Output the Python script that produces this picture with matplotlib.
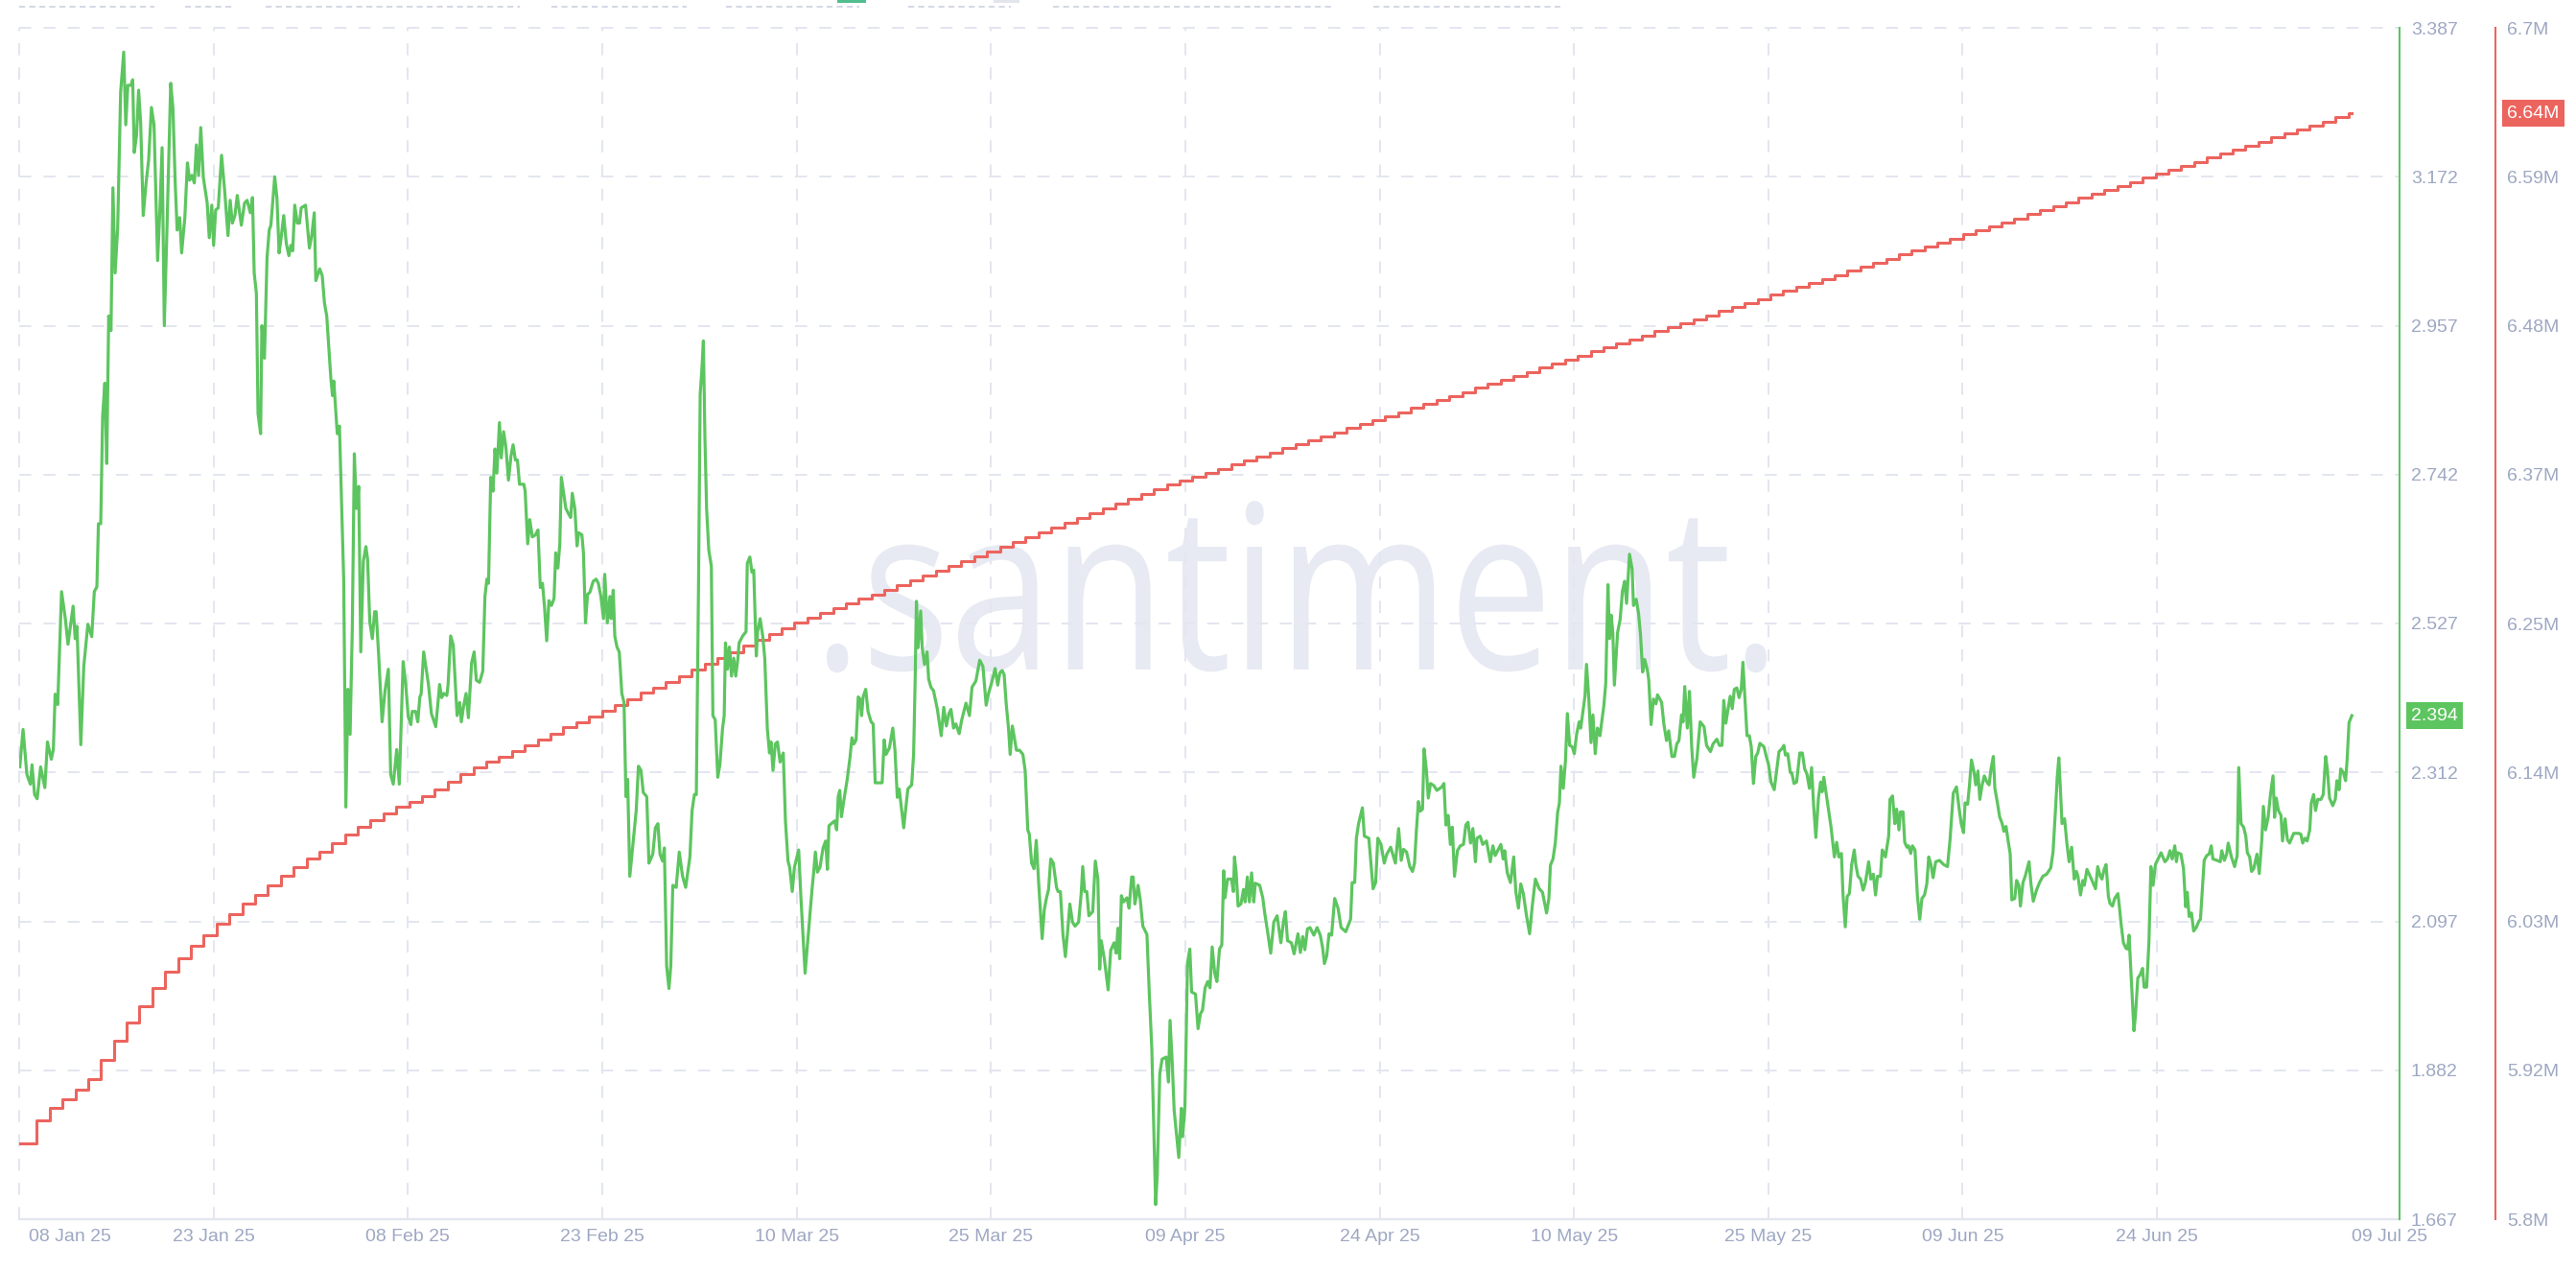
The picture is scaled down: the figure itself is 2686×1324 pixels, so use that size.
import numpy as np
import matplotlib.pyplot as plt
from matplotlib.textpath import TextPath
from matplotlib.font_manager import FontProperties
from matplotlib.patches import PathPatch, Rectangle
from matplotlib.transforms import Affine2D

plt.rcParams['font.family'] = ['Liberation Sans', 'DejaVu Sans']

# ---- data (x = days since 08 Jan 25) ----
date_labels = ["08 Jan 25", "23 Jan 25", "08 Feb 25", "23 Feb 25", "10 Mar 25", "25 Mar 25",
               "09 Apr 25", "24 Apr 25", "10 May 25", "25 May 25", "09 Jun 25", "24 Jun 25", "09 Jul 25"]
green_ticks = [1.667, 1.882, 2.097, 2.312, 2.527, 2.742, 2.957, 3.172, 3.387]
red_ticks = [5.8, 5.9125, 6.025, 6.1375, 6.25, 6.3625, 6.475, 6.5875, 6.7]
red_tick_labels = ["5.8M", "5.92M", "6.03M", "6.14M", "6.25M", "6.37M", "6.48M", "6.59M", "6.7M"]

# green series: (day, value)
green_points = [
    (0.05, 2.320), (0.3, 2.374), (0.6, 2.309), (0.87, 2.295), (1.0, 2.323), (1.2, 2.280), (1.4, 2.274),
    (1.67, 2.320), (2.0, 2.290), (2.2, 2.356), (2.5, 2.331), (2.66, 2.345), (2.8, 2.425), (3.0, 2.410),
    (3.3, 2.573), (3.6, 2.533), (3.8, 2.497), (4.2, 2.552), (4.36, 2.505), (4.5, 2.523), (4.8, 2.352),
    (5.03, 2.465), (5.35, 2.526), (5.65, 2.508), (5.85, 2.573), (6.05, 2.580), (6.17, 2.671), (6.35, 2.671),
    (6.5, 2.827), (6.67, 2.874), (6.82, 2.758), (6.97, 2.971), (7.15, 2.950), (7.3, 3.156), (7.47, 3.033),
    (7.67, 3.098), (7.9, 3.294), (8.14, 3.352), (8.3, 3.247), (8.46, 3.304), (8.7, 3.304), (8.84, 3.312),
    (8.96, 3.207), (9.14, 3.232), (9.3, 3.297), (9.46, 3.250), (9.66, 3.116), (9.88, 3.163), (10.08, 3.196),
    (10.3, 3.272), (10.5, 3.247), (10.78, 3.051), (10.95, 3.120), (11.13, 3.214), (11.3, 2.957), (11.5, 3.091),
    (11.8, 3.307), (11.97, 3.272), (12.15, 3.163), (12.3, 3.095), (12.5, 3.113), (12.65, 3.062), (12.9, 3.113),
    (13.1, 3.192), (13.27, 3.167), (13.44, 3.174), (13.64, 3.163), (13.8, 3.218), (13.97, 3.174), (14.14, 3.243),
    (14.34, 3.171), (14.64, 3.134), (14.8, 3.084), (15.0, 3.131), (15.14, 3.073), (15.3, 3.124), (15.5, 3.127),
    (15.76, 3.203), (16.0, 3.152), (16.26, 3.087), (16.43, 3.138), (16.6, 3.105), (16.8, 3.116), (16.98, 3.145),
    (17.3, 3.102), (17.55, 3.134), (17.75, 3.138), (18.0, 3.120), (18.17, 3.142), (18.3, 3.033), (18.47, 3.004),
    (18.6, 2.830), (18.8, 2.801), (18.9, 2.957), (19.1, 2.910), (19.3, 3.055), (19.47, 3.095), (19.6, 3.102),
    (19.9, 3.172), (20.07, 3.142), (20.24, 3.062), (20.4, 3.084), (20.6, 3.116), (20.8, 3.076), (21.0, 3.058),
    (21.16, 3.073), (21.3, 3.065), (21.46, 3.131), (21.66, 3.105), (21.83, 3.105), (21.96, 3.127), (22.3, 3.131),
    (22.6, 3.069), (22.78, 3.087), (22.98, 3.120), (23.1, 3.022), (23.4, 3.039), (23.6, 3.029), (23.77, 2.990),
    (23.95, 2.971), (24.27, 2.881), (24.4, 2.856), (24.5, 2.877), (24.77, 2.801), (24.94, 2.812), (25.27, 2.591),
    (25.44, 2.262), (25.6, 2.432), (25.77, 2.367), (25.94, 2.519), (26.1, 2.772), (26.26, 2.693), (26.44, 2.725),
    (26.6, 2.486), (26.8, 2.617), (27.0, 2.638), (27.13, 2.620), (27.3, 2.530), (27.5, 2.505), (27.68, 2.544),
    (27.8, 2.544), (28.0, 2.479), (28.26, 2.385), (28.5, 2.432), (28.75, 2.461), (28.93, 2.309), (29.13, 2.295),
    (29.4, 2.345), (29.6, 2.295), (29.9, 2.472), (30.1, 2.439), (30.3, 2.392), (30.5, 2.381), (30.6, 2.400),
    (30.87, 2.400), (31.04, 2.385), (31.2, 2.421), (31.3, 2.425), (31.5, 2.486), (31.87, 2.439),
    (32.1, 2.397), (32.44, 2.378), (32.74, 2.439), (32.9, 2.42), (33.06, 2.426), (33.3, 2.423), (33.4, 2.439),
    (33.6, 2.509), (33.8, 2.496), (34.1, 2.394), (34.3, 2.413), (34.43, 2.385), (34.6, 2.407), (34.8, 2.426),
    (34.98, 2.391), (35.23, 2.47), (35.43, 2.486), (35.6, 2.445), (35.85, 2.442), (36.1, 2.458), (36.27, 2.566),
    (36.42, 2.591), (36.55, 2.585), (36.72, 2.738), (36.9, 2.718), (37.05, 2.779), (37.2, 2.744), (37.4, 2.817),
    (37.54, 2.766), (37.72, 2.804), (37.9, 2.782), (38.1, 2.734), (38.3, 2.769), (38.46, 2.785), (38.64, 2.763),
    (38.8, 2.763), (38.96, 2.728), (39.3, 2.728), (39.4, 2.718), (39.6, 2.642), (39.76, 2.677), (39.96, 2.652),
    (40.2, 2.655), (40.4, 2.662), (40.58, 2.579), (40.75, 2.585), (40.9, 2.553), (41.08, 2.502), (41.25, 2.56),
    (41.45, 2.553), (41.65, 2.563), (41.78, 2.629), (41.95, 2.607), (42.1, 2.642), (42.22, 2.738), (42.4, 2.715),
    (42.57, 2.693), (42.82, 2.684), (42.95, 2.68), (43.07, 2.715), (43.27, 2.693), (43.44, 2.639), (43.57, 2.658),
    (43.82, 2.655), (43.94, 2.629), (44.1, 2.528), (44.26, 2.569), (44.44, 2.572), (44.7, 2.588), (44.93, 2.591),
    (45.1, 2.585), (45.3, 2.566), (45.5, 2.534), (45.6, 2.598), (45.8, 2.528), (46.0, 2.566), (46.1, 2.534),
    (46.26, 2.575), (46.38, 2.509), (46.55, 2.493), (46.73, 2.486), (46.93, 2.426), (47.1, 2.413), (47.25, 2.277),
    (47.38, 2.302), (47.55, 2.162), (47.8, 2.21), (48.05, 2.257), (48.22, 2.321), (48.42, 2.315), (48.6, 2.283),
    (48.87, 2.277), (49.04, 2.181), (49.34, 2.194), (49.54, 2.232), (49.74, 2.238), (49.9, 2.194), (50.1, 2.184),
    (50.24, 2.203), (50.42, 2.032), (50.6, 2.0), (50.74, 2.032), (50.9, 2.149), (51.16, 2.146), (51.4, 2.197),
    (51.66, 2.162), (51.9, 2.146), (52.23, 2.19), (52.4, 2.257), (52.58, 2.28), (52.73, 2.28), (52.9, 2.579),
    (53.03, 2.858), (53.15, 2.89), (53.28, 2.935), (53.4, 2.795), (53.53, 2.693), (53.7, 2.633), (53.9, 2.61),
    (54.02, 2.394), (54.2, 2.388), (54.4, 2.305), (54.57, 2.324), (54.77, 2.375), (54.9, 2.394), (55.0, 2.499),
    (55.15, 2.461), (55.3, 2.493), (55.47, 2.451), (55.64, 2.477), (55.8, 2.451), (55.97, 2.477), (56.06, 2.499),
    (56.34, 2.509), (56.6, 2.515), (56.7, 2.614), (56.9, 2.623), (57.06, 2.601), (57.2, 2.604), (57.4, 2.48),
    (57.5, 2.515), (57.7, 2.534), (57.9, 2.509), (58.06, 2.477), (58.26, 2.375), (58.43, 2.34), (58.55, 2.356),
    (58.7, 2.315), (58.88, 2.353), (59.05, 2.356), (59.25, 2.327), (59.5, 2.34), (59.67, 2.242), (59.87, 2.184),
    (60.0, 2.175), (60.2, 2.14), (60.37, 2.175), (60.7, 2.2), (60.87, 2.133), (61.2, 2.022), (61.5, 2.089),
    (61.74, 2.143), (61.87, 2.168), (62.0, 2.197), (62.16, 2.168), (62.36, 2.175), (62.6, 2.203), (62.8, 2.213),
    (62.94, 2.172), (63.06, 2.235), (63.24, 2.238), (63.5, 2.242), (63.66, 2.229), (63.78, 2.277), (63.9, 2.286),
    (64.03, 2.248), (64.23, 2.273), (64.48, 2.302), (64.7, 2.334), (64.85, 2.362), (65.0, 2.353), (65.17, 2.359),
    (65.34, 2.421), (65.47, 2.418), (65.6, 2.394), (65.72, 2.421), (65.92, 2.432), (66.1, 2.4), (66.34, 2.385),
    (66.5, 2.382), (66.66, 2.297), (66.9, 2.297), (67.2, 2.297), (67.36, 2.359), (67.5, 2.338), (67.76, 2.347),
    (68.03, 2.376), (68.2, 2.344), (68.38, 2.276), (68.53, 2.288), (68.7, 2.261), (68.88, 2.232), (69.03, 2.258),
    (69.2, 2.288), (69.5, 2.294), (69.65, 2.338), (69.77, 2.444), (69.87, 2.559), (70.0, 2.492), (70.2, 2.545),
    (70.32, 2.492), (70.5, 2.468), (70.7, 2.486), (70.82, 2.447), (71.0, 2.435), (71.2, 2.43), (71.5, 2.403),
    (71.8, 2.365), (72.0, 2.406), (72.2, 2.379), (72.4, 2.397), (72.56, 2.403), (72.76, 2.376), (72.94, 2.382),
    (73.2, 2.368), (73.4, 2.388), (73.73, 2.412), (74.0, 2.394), (74.2, 2.435), (74.5, 2.444), (74.8, 2.474),
    (75.05, 2.465), (75.3, 2.409), (75.5, 2.427), (75.72, 2.441), (76.0, 2.462), (76.2, 2.438), (76.37, 2.456),
    (76.55, 2.459), (76.7, 2.453), (76.87, 2.409), (77.04, 2.376), (77.17, 2.338), (77.34, 2.379), (77.66, 2.344),
    (77.9, 2.344), (78.16, 2.338), (78.34, 2.314), (78.54, 2.229), (78.66, 2.223), (78.84, 2.181), (79.03, 2.173),
    (79.2, 2.214), (79.4, 2.149), (79.66, 2.072), (79.83, 2.114), (80.0, 2.131), (80.16, 2.143), (80.33, 2.187),
    (80.53, 2.181), (80.78, 2.146), (80.9, 2.14), (81.08, 2.14), (81.28, 2.078), (81.47, 2.046), (81.65, 2.084),
    (81.82, 2.122), (82.02, 2.096), (82.22, 2.09), (82.5, 2.096), (82.7, 2.137), (82.82, 2.176), (82.97, 2.14),
    (83.14, 2.14), (83.3, 2.105), (83.6, 2.111), (83.8, 2.184), (84.0, 2.158), (84.14, 2.028), (84.26, 2.069),
    (84.5, 2.043), (84.8, 1.998), (85.0, 2.055), (85.26, 2.066), (85.43, 2.051), (85.56, 2.087), (85.7, 2.043),
    (85.83, 2.134), (86.0, 2.125), (86.26, 2.131), (86.43, 2.116), (86.63, 2.161), (86.75, 2.161), (86.88, 2.122),
    (87.0, 2.134), (87.13, 2.149), (87.3, 2.128), (87.5, 2.09), (87.82, 2.078), (88.0, 1.995), (88.2, 1.913),
    (88.37, 1.783), (88.5, 1.688), (88.62, 1.73), (88.82, 1.877), (89.0, 1.898), (89.32, 1.901), (89.5, 1.865),
    (89.62, 1.954), (89.8, 1.889), (89.94, 1.824), (90.16, 1.783), (90.3, 1.756), (90.5, 1.827), (90.6, 1.786),
    (90.78, 1.83), (90.98, 2.037), (91.16, 2.057), (91.3, 1.995), (91.6, 1.992), (91.8, 1.942), (91.98, 1.963),
    (92.15, 1.969), (92.35, 2.001), (92.55, 2.01), (92.73, 2.001), (92.9, 2.06), (93.1, 2.022), (93.27, 2.01),
    (93.47, 2.057), (93.65, 2.063), (93.8, 2.17), (93.9, 2.131), (94.1, 2.158), (94.4, 2.158), (94.55, 2.14),
    (94.64, 2.19), (94.77, 2.167), (94.92, 2.119), (95.14, 2.122), (95.34, 2.143), (95.47, 2.125), (95.64, 2.161),
    (95.8, 2.125), (95.97, 2.167), (96.14, 2.125), (96.26, 2.152), (96.6, 2.149), (96.84, 2.131), (97.0, 2.108),
    (97.2, 2.084), (97.46, 2.051), (97.7, 2.096), (97.96, 2.105), (98.25, 2.066), (98.45, 2.096), (98.6, 2.111),
    (98.77, 2.069), (99.07, 2.066), (99.28, 2.05), (99.58, 2.079), (99.77, 2.052), (99.95, 2.075), (100.12, 2.056),
    (100.32, 2.086), (100.52, 2.088), (100.82, 2.077), (101.07, 2.088), (101.32, 2.077), (101.5, 2.059),
    (101.64, 2.036), (101.82, 2.047), (102.0, 2.079), (102.2, 2.077), (102.44, 2.13), (102.7, 2.116),
    (102.94, 2.088), (103.3, 2.082), (103.68, 2.1), (103.8, 2.153), (104.0, 2.153), (104.13, 2.217), (104.3, 2.238),
    (104.6, 2.261), (104.75, 2.22), (105.1, 2.217), (105.43, 2.144), (105.63, 2.153), (105.8, 2.217),
    (106.05, 2.208), (106.3, 2.181), (106.5, 2.194), (106.8, 2.204), (107.17, 2.181), (107.42, 2.231),
    (107.62, 2.185), (107.8, 2.201), (108.04, 2.197), (108.29, 2.176), (108.5, 2.169), (108.66, 2.181),
    (108.8, 2.227), (108.96, 2.27), (109.1, 2.256), (109.28, 2.259), (109.4, 2.346), (109.58, 2.316),
    (109.73, 2.275), (109.9, 2.296), (110.16, 2.293), (110.4, 2.286), (110.78, 2.291), (110.95, 2.296),
    (111.1, 2.236), (111.28, 2.25), (111.45, 2.208), (111.6, 2.233), (111.77, 2.162), (112.0, 2.199),
    (112.22, 2.206), (112.47, 2.208), (112.65, 2.236), (112.82, 2.24), (113.02, 2.21), (113.2, 2.231),
    (113.4, 2.183), (113.52, 2.217), (113.77, 2.22), (113.97, 2.208), (114.26, 2.213), (114.56, 2.183),
    (114.76, 2.206), (114.94, 2.192), (115.13, 2.199), (115.38, 2.208), (115.56, 2.187), (115.68, 2.199),
    (115.88, 2.167), (116.13, 2.153), (116.38, 2.19), (116.55, 2.139), (116.75, 2.116), (116.93, 2.151),
    (117.13, 2.137), (117.38, 2.105), (117.62, 2.079), (117.82, 2.118), (118.07, 2.158), (118.37, 2.144),
    (118.62, 2.139), (118.74, 2.128), (118.94, 2.109), (119.12, 2.13), (119.24, 2.178), (119.44, 2.187),
    (119.62, 2.21), (119.8, 2.254), (119.94, 2.268), (120.06, 2.321), (120.24, 2.289), (120.41, 2.328),
    (120.56, 2.397), (120.74, 2.351), (120.94, 2.349), (121.1, 2.339), (121.28, 2.367), (121.48, 2.385),
    (121.6, 2.376), (121.78, 2.401), (121.93, 2.422), (122.05, 2.468), (122.23, 2.418), (122.4, 2.355),
    (122.55, 2.395), (122.73, 2.339), (122.9, 2.376), (123.1, 2.365), (123.22, 2.383), (123.4, 2.408),
    (123.55, 2.441), (123.72, 2.583), (123.85, 2.505), (123.97, 2.539), (124.1, 2.514), (124.22, 2.438),
    (124.47, 2.514), (124.67, 2.533), (124.85, 2.574), (125.02, 2.588), (125.17, 2.556), (125.4, 2.627),
    (125.6, 2.606), (125.71, 2.553), (125.92, 2.562), (126.1, 2.542), (126.26, 2.51), (126.42, 2.457),
    (126.58, 2.475), (126.8, 2.459), (126.9, 2.445), (127.08, 2.381), (127.26, 2.418), (127.46, 2.411),
    (127.58, 2.424), (127.9, 2.413), (128.08, 2.381), (128.28, 2.358), (128.45, 2.372), (128.7, 2.335),
    (128.9, 2.335), (129.08, 2.353), (129.25, 2.358), (129.45, 2.395), (129.57, 2.385), (129.7, 2.436),
    (129.9, 2.376), (130.07, 2.429), (130.24, 2.349), (130.4, 2.305), (130.65, 2.332), (130.9, 2.385),
    (131.2, 2.378), (131.4, 2.351), (131.7, 2.342), (131.9, 2.353), (132.2, 2.36), (132.4, 2.351), (132.6, 2.351),
    (132.74, 2.416), (132.9, 2.383), (133.06, 2.402), (133.24, 2.422), (133.4, 2.404), (133.56, 2.432),
    (133.76, 2.434), (133.93, 2.42), (134.1, 2.432), (134.23, 2.471), (134.38, 2.42), (134.55, 2.365),
    (134.73, 2.365), (134.88, 2.349), (135.05, 2.296), (135.23, 2.335), (135.38, 2.34), (135.55, 2.354),
    (135.87, 2.349), (136.05, 2.335), (136.22, 2.324), (136.42, 2.298), (136.67, 2.287), (137.04, 2.342),
    (137.3, 2.347), (137.42, 2.351), (137.54, 2.337), (137.72, 2.339), (137.92, 2.312), (138.04, 2.311),
    (138.21, 2.296), (138.41, 2.298), (138.66, 2.34), (138.86, 2.34), (139.04, 2.317), (139.21, 2.31),
    (139.41, 2.289), (139.58, 2.319), (139.73, 2.266), (139.91, 2.218), (140.11, 2.275), (140.28, 2.298),
    (140.4, 2.284), (140.53, 2.305), (140.78, 2.273), (141.1, 2.232), (141.35, 2.19), (141.53, 2.211),
    (141.7, 2.19), (141.9, 2.195), (142.02, 2.137), (142.2, 2.089), (142.35, 2.133), (142.52, 2.137),
    (142.7, 2.179), (142.9, 2.2), (143.02, 2.179), (143.19, 2.162), (143.39, 2.158), (143.59, 2.142),
    (143.77, 2.153), (144.02, 2.183), (144.19, 2.158), (144.39, 2.165), (144.56, 2.135), (144.71, 2.162),
    (144.94, 2.162), (145.08, 2.2), (145.33, 2.19), (145.58, 2.22), (145.68, 2.273), (145.88, 2.278),
    (146.06, 2.238), (146.2, 2.259), (146.38, 2.229), (146.5, 2.255), (146.7, 2.255), (146.83, 2.211),
    (147.0, 2.204), (147.13, 2.206), (147.3, 2.195), (147.43, 2.206), (147.63, 2.2), (147.82, 2.133),
    (148.0, 2.1), (148.17, 2.13), (148.37, 2.135), (148.55, 2.151), (148.7, 2.19), (148.87, 2.179),
    (149.04, 2.16), (149.24, 2.183), (149.54, 2.185), (149.86, 2.179), (150.16, 2.176), (150.36, 2.215),
    (150.61, 2.282), (150.86, 2.291), (151.06, 2.261), (151.23, 2.238), (151.41, 2.225), (151.53, 2.268),
    (151.73, 2.266), (151.86, 2.291), (152.03, 2.33), (152.23, 2.312), (152.36, 2.294), (152.53, 2.314),
    (152.68, 2.273), (152.86, 2.294), (153.03, 2.307), (153.23, 2.298), (153.4, 2.294), (153.55, 2.317),
    (153.73, 2.335), (153.85, 2.289), (154.05, 2.268), (154.22, 2.248), (154.42, 2.238), (154.55, 2.227),
    (154.72, 2.234), (154.9, 2.211), (155.04, 2.195), (155.17, 2.128), (155.4, 2.13), (155.54, 2.156),
    (155.72, 2.149), (155.84, 2.119), (156.04, 2.153), (156.21, 2.162), (156.51, 2.183), (156.66, 2.151),
    (156.84, 2.126), (157.09, 2.142), (157.33, 2.153), (157.58, 2.162), (157.88, 2.165), (158.2, 2.174),
    (158.38, 2.197), (158.58, 2.261), (158.7, 2.303), (158.83, 2.333), (158.95, 2.289), (159.08, 2.238),
    (159.28, 2.245), (159.45, 2.211), (159.63, 2.183), (159.83, 2.204), (160.03, 2.158), (160.2, 2.169),
    (160.32, 2.162), (160.52, 2.135), (160.7, 2.156), (160.82, 2.149), (161.02, 2.172), (161.32, 2.16),
    (161.69, 2.144), (161.86, 2.176), (162.06, 2.162), (162.19, 2.158), (162.36, 2.172), (162.51, 2.179),
    (162.69, 2.133), (162.81, 2.123), (163.01, 2.119), (163.18, 2.13), (163.43, 2.137), (163.56, 2.116),
    (163.68, 2.093), (163.86, 2.066), (164.06, 2.058), (164.18, 2.057), (164.3, 2.077), (164.48, 2.011),
    (164.68, 1.939), (164.8, 1.962), (164.98, 2.015), (165.17, 2.02), (165.35, 2.029), (165.47, 2.002),
    (165.67, 2.002), (165.85, 2.068), (166.0, 2.176), (166.17, 2.149), (166.35, 2.179), (166.79, 2.196),
    (167.09, 2.183), (167.29, 2.187), (167.49, 2.199), (167.66, 2.187), (167.86, 2.206), (167.99, 2.183),
    (168.09, 2.196), (168.34, 2.194), (168.54, 2.173), (168.71, 2.118), (168.83, 2.139), (168.98, 2.104),
    (169.16, 2.109), (169.33, 2.083), (169.53, 2.088), (169.73, 2.097), (169.86, 2.1), (170.15, 2.185),
    (170.35, 2.192), (170.53, 2.194), (170.7, 2.206), (170.83, 2.187), (171.15, 2.185), (171.4, 2.183),
    (171.52, 2.199), (171.72, 2.185), (171.9, 2.194), (172.02, 2.21), (172.27, 2.19), (172.52, 2.176),
    (172.72, 2.192), (172.84, 2.319), (173.02, 2.238), (173.22, 2.233), (173.39, 2.22), (173.51, 2.196),
    (173.69, 2.19), (173.84, 2.169), (174.01, 2.173), (174.26, 2.194), (174.44, 2.166), (174.64, 2.215),
    (174.76, 2.263), (174.93, 2.229), (175.13, 2.247), (175.31, 2.28), (175.51, 2.307), (175.63, 2.247),
    (175.76, 2.275), (175.93, 2.257), (176.13, 2.25), (176.25, 2.213), (176.45, 2.245), (176.63, 2.215),
    (176.8, 2.21), (177.12, 2.224), (177.5, 2.224), (177.67, 2.223), (177.82, 2.21), (178.0, 2.217),
    (178.17, 2.213), (178.37, 2.229), (178.49, 2.268), (178.67, 2.28), (178.82, 2.257), (178.99, 2.273),
    (179.24, 2.273), (179.42, 2.28), (179.61, 2.335), (179.74, 2.317), (179.91, 2.275), (180.16, 2.264),
    (180.36, 2.273), (180.48, 2.3), (180.66, 2.287), (180.78, 2.317), (180.98, 2.312), (181.16, 2.3),
    (181.28, 2.33), (181.43, 2.384), (181.65, 2.394),
]

# red series: one value per daily step (millions), first step starts before the visible range
red_first_day = -0.63
red_val = [
    5.8575, 5.8575, 5.8746, 5.8838, 5.8905, 5.8978, 5.9058, 5.9205, 5.9346, 5.9486,
    5.9609, 5.9743, 5.9866, 5.9969, 6.0068, 6.0147, 6.0233, 6.0306, 6.0386, 6.0447,
    6.0521, 6.0594, 6.0661, 6.0722, 6.0777, 6.0839, 6.0906, 6.0967, 6.1016, 6.1065,
    6.1114, 6.1150, 6.1195, 6.1250, 6.1305, 6.1360, 6.1415, 6.1455, 6.1495, 6.1535,
    6.1580, 6.1625, 6.1670, 6.1715, 6.1755, 6.1800, 6.1840, 6.1885, 6.1930, 6.1975,
    6.2015, 6.2060, 6.2105, 6.2150, 6.2195, 6.2240, 6.2285, 6.2330, 6.2375, 6.2420,
    6.2465, 6.2510, 6.2545, 6.2580, 6.2615, 6.2650, 6.2685, 6.2720, 6.2756, 6.2792,
    6.2828, 6.2864, 6.2900, 6.2936, 6.2972, 6.3008, 6.3044, 6.3080, 6.3116, 6.3152,
    6.3188, 6.3224, 6.3260, 6.3296, 6.3332, 6.3368, 6.3404, 6.3440, 6.3476, 6.3512,
    6.3548, 6.3579, 6.3609, 6.3640, 6.3670, 6.3701, 6.3731, 6.3762, 6.3792, 6.3823,
    6.3853, 6.3884, 6.3914, 6.3945, 6.3975, 6.4006, 6.4036, 6.4067, 6.4097, 6.4128,
    6.4158, 6.4189, 6.4219, 6.4250, 6.4280, 6.4311, 6.4341, 6.4372, 6.4402, 6.4433,
    6.4463, 6.4494, 6.4524, 6.4555, 6.4585, 6.4616, 6.4646, 6.4677, 6.4707, 6.4738,
    6.4768, 6.4799, 6.4829, 6.4860, 6.4890, 6.4921, 6.4951, 6.4982, 6.5012, 6.5043,
    6.5073, 6.5104, 6.5134, 6.5165, 6.5195, 6.5226, 6.5256, 6.5287, 6.5317, 6.5348,
    6.5378, 6.5409, 6.5439, 6.5470, 6.5500, 6.5531, 6.5561, 6.5592, 6.5622, 6.5653,
    6.5683, 6.5714, 6.5744, 6.5775, 6.5805, 6.5836, 6.5866, 6.5897, 6.5927, 6.5958,
    6.5988, 6.6019, 6.6049, 6.6080, 6.6110, 6.6141, 6.6171, 6.6202, 6.6232, 6.6263,
    6.6293, 6.6324, 6.6354,
]

# ---- style ----
GREEN = '#5dc55f'
RED = '#ec645e'
GRID = '#e3e6ef'
TXT = '#9ea8c3'
WM = '#e7eaf2'

W, H, DPI = 2686, 1324, 100
L, R, T, B = 20, 2502, 29, 1271          # plot box in pixels
XMAX = (R - L) / 13.39                    # days across the plot
GRID_STEP = 15.134                        # days between vertical grid lines

fig = plt.figure(figsize=(W / DPI, H / DPI), dpi=DPI)
fig.patch.set_facecolor('white')
rect = [L / W, 1 - B / H, (R - L) / W, (B - T) / H]

# background axes: grid + watermark
ax_bg = fig.add_axes(rect)
ax_bg.set_xlim(0, XMAX)
ax_bg.set_ylim(green_ticks[0], green_ticks[-1])
ax_bg.axis('off')
for yv in green_ticks[1:]:
    ax_bg.axhline(yv, color=GRID, lw=1.4, ls=(0, (6.5, 6.5)), clip_on=False, zorder=1)
for k in range(12):
    ax_bg.axvline(k * GRID_STEP, color=GRID, lw=1.4, ls=(0, (6.5, 6.5)), clip_on=False, zorder=1)
ax_bg.axhline(green_ticks[0], color=GRID, lw=1.7, clip_on=False, zorder=1)

fp = FontProperties(family='Open Sans')
wm_path = TextPath((0, 0), '.santiment.', size=100, prop=fp)
ext = wm_path.get_extents()
xh = TextPath((0, 0), 'x', size=100, prop=fp).get_extents().height
sx = 980 / ext.width
sy = 128 / xh
wm_tr = (Affine2D().translate(-ext.x0, 0).scale(sx, sy).translate(862, H - 698)
         .scale(1 / W, 1 / H) + fig.transFigure)
ax_bg.add_patch(PathPatch(wm_path, transform=wm_tr, facecolor=WM, lw=0, zorder=0, clip_on=False))

# red axes
axr = fig.add_axes(rect, sharex=ax_bg)
axr.patch.set_visible(False)
red_x = red_first_day + np.arange(len(red_val))
green_day = [p[0] for p in green_points]
green_val = [p[1] for p in green_points]
axr.plot(np.append(red_x, green_day[-1]), np.append(red_val, red_val[-1]),
         drawstyle='steps-post', color=RED, lw=2.2)
axr.set_ylim(red_ticks[0], red_ticks[-1])
for s in ['top', 'left', 'bottom']:
    axr.spines[s].set_visible(False)
axr.spines['right'].set_position(('axes', (2602 - L) / (R - L)))
axr.spines['right'].set_color(RED)
axr.spines['right'].set_linewidth(1.5)
axr.yaxis.tick_right()
axr.set_yticks(red_ticks)
axr.set_yticklabels(red_tick_labels)
axr.tick_params(axis='y', length=0, pad=8.6, labelsize=14, labelcolor=TXT)
axr.tick_params(axis='x', bottom=False, labelbottom=False)
axr.text((2614 - L) / (R - L), red_val[-1], f"{red_val[-1]:.2f}M", transform=axr.get_yaxis_transform(),
         ha='left', va='center', fontsize=14, color='white',
         bbox=dict(boxstyle='square,pad=0.28', fc=RED, ec='none'))

# green axes
ax = fig.add_axes(rect, sharex=ax_bg)
ax.patch.set_visible(False)
ax.plot(green_day, green_val, color=GREEN, lw=2.3, solid_joinstyle='round')
ax.set_ylim(green_ticks[0], green_ticks[-1])
ax.set_xlim(0, XMAX)
for s in ['top', 'left', 'bottom']:
    ax.spines[s].set_visible(False)
ax.spines['right'].set_color(GREEN)
ax.spines['right'].set_linewidth(1.5)
ax.yaxis.tick_right()
ax.set_yticks(green_ticks)
ax.set_yticklabels([f"{v:.3f}" for v in green_ticks])
ax.tick_params(axis='y', length=0, pad=8.6, labelsize=14, labelcolor=TXT)
tick_pos = [(29.5 - L) / 13.39] + [k * GRID_STEP for k in range(1, 12)] + [(2492 - L) / 13.39]
ax.set_xticks(tick_pos)
ax.set_xticklabels(date_labels)
ax.tick_params(axis='x', length=0, pad=7.5, labelsize=14, labelcolor=TXT)
ax.get_xticklabels()[0].set_ha('left')
ax.text(1 + 12 / (R - L), green_val[-1], f"{green_val[-1]:.3f}", transform=ax.get_yaxis_transform(),
        ha='left', va='center', fontsize=14, color='white',
        bbox=dict(boxstyle='square,pad=0.28', fc=GREEN, ec='none'))

# cut-off header strip at the very top
for x0, x1 in [(20, 161), (193, 245), (277, 542), (575, 716), (757, 896), (947, 1054), (1098, 1388), (1432, 1627)]:
    fig.add_artist(plt.Line2D([x0 / W, x1 / W], [1 - 7 / H] * 2, transform=fig.transFigure,
                              color='#d3d7e3', lw=1.4, ls=(0, (3.2, 2.2))))
fig.add_artist(Rectangle((873 / W, 1 - 3 / H), 30 / W, 3 / H, transform=fig.transFigure,
                         fc='#52bd8e', ec='none'))
fig.add_artist(Rectangle((1036 / W, 1 - 3 / H), 27 / W, 3 / H, transform=fig.transFigure,
                         fc='#e2e5ec', ec='none'))

fig.savefig('out.png', dpi=DPI)
